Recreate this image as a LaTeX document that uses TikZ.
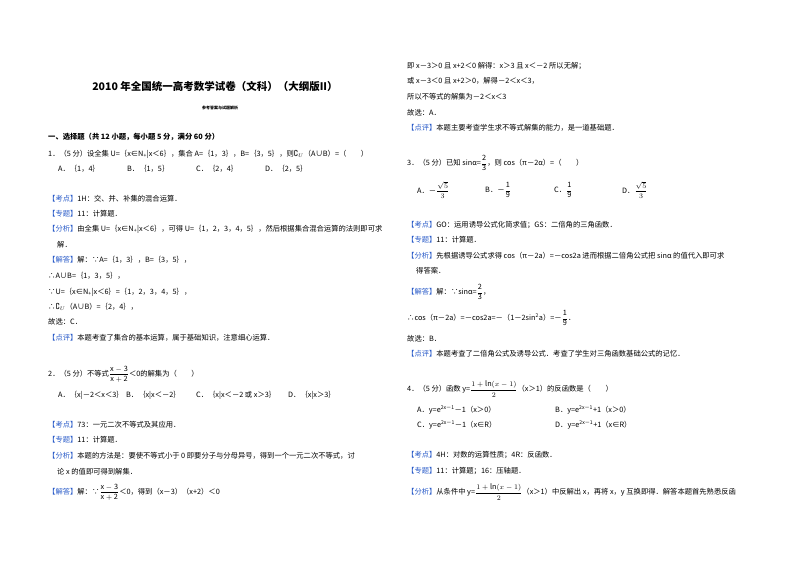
\documentclass[tikz,border=0pt]{standalone}
\usepackage{amssymb}
\usepackage{fontspec}
\setmainfont{Noto Sans CJK SC}
\definecolor{lbl}{RGB}{40,90,200}
\tikzset{t/.style={anchor=west,inner sep=0pt,font=\fontsize{7.3}{9}\selectfont}}
\newcommand{\Ln}[4]{\node[t] (#1) at (#2pt,-#3pt) {#4};}
\newcommand{\B}[1]{{\color{lbl}【#1】}}
\newcommand{\fr}[2]{$\displaystyle\frac{\mathrm{#1}}{\mathrm{#2}}$}
\begin{document}
\begin{tikzpicture}
\useasboundingbox (0,0) rectangle (800pt,-565pt);
\node[inner sep=0pt,font=\fontsize{10.5}{12}\selectfont\bfseries] (title) at (215pt,-87pt) {2010 年全国统一高考数学试卷（文科）（大纲版II）};
\node[inner sep=0pt,font=\fontsize{4}{5}\selectfont\bfseries] (sub) at (220pt,-108pt) {参考答案与试题解析};
\node[t,font=\fontsize{7.3}{9}\selectfont\bfseries] (sec) at (48pt,-137pt) {一、选择题（共 12 小题，每小题 5 分，满分 60 分）};
\Ln{q1}{48}{154}{1．（5 分）设全集 U=｛x∈N\textsubscript{+}|x＜6｝，集合 A=｛1，3｝，B=｛3，5｝，则$\complement_U$（A∪B）=（\quad\quad）}
\Ln{q1a}{58}{169}{A．｛1，4｝}
\Ln{q1b}{127}{169}{B．｛1，5｝}
\Ln{q1c}{196}{169}{C．｛2，4｝}
\Ln{q1d}{265}{169}{D．｛2，5｝}
\Ln{k1}{48}{199}{\B{考点}1H：交、并、补集的混合运算．}
\Ln{z1}{48}{214}{\B{专题}11：计算题．}
\Ln{f1}{48}{229}{\B{分析}由全集 U=｛x∈N\textsubscript{+}|x＜6｝，可得 U=｛1，2，3，4，5｝，然后根据集合混合运算的法则即可求}
\Ln{f1b}{57}{245}{解．}
\Ln{j1}{48}{260}{\B{解答}解：∵A=｛1，3｝，B=｛3，5｝，}
\Ln{j1b}{48}{276}{∴A∪B=｛1，3，5｝，}
\Ln{j1c}{48}{292}{∵U=｛x∈N\textsubscript{+}|x＜6｝=｛1，2，3，4，5｝，}
\Ln{j1d}{48}{307}{∴$\complement_U$（A∪B）=｛2，4｝，}
\Ln{g1}{48}{322}{故选：C．}
\Ln{p1}{48}{338}{\B{点评}本题考查了集合的基本运算，属于基础知识，注意细心运算．}
\Ln{q2}{48}{374}{2．（5 分）不等式\fr{x-3}{x+2}＜0的解集为（\quad\quad）}
\Ln{q2a}{58}{395}{A．｛x|－2＜x＜3｝}
\Ln{q2b}{126}{395}{B．｛x|x＜－2｝}
\Ln{q2c}{196}{395}{C．｛x|x＜－2 或 x＞3｝}
\Ln{q2d}{288}{395}{D．｛x|x＞3｝}
\Ln{k2}{48}{425}{\B{考点}73：一元二次不等式及其应用．}
\Ln{z2}{48}{440}{\B{专题}11：计算题．}
\Ln{f2}{48}{456}{\B{分析}本题的方法是：要使不等式小于 0 即要分子与分母异号，得到一个一元二次不等式，讨}
\Ln{f2b}{57}{472}{论 x 的值即可得到解集．}
\Ln{j2}{48}{492}{\B{解答}解：∵\fr{x-3}{x+2}＜0，得到（x－3）（x+2）＜0}
% right column
\Ln{r1}{407}{66}{即 x－3＞0 且 x+2＜0 解得：x＞3 且 x＜－2 所以无解；}
\Ln{r2}{407}{81}{或 x－3＜0 且 x+2＞0，解得－2＜x＜3，}
\Ln{r3}{407}{97}{所以不等式的解集为－2＜x＜3}
\Ln{r4}{407}{113}{故选：A．}
\Ln{r5}{407}{128}{\B{点评}本题主要考查学生求不等式解集的能力，是一道基础题．}
\Ln{q3}{407}{163}{3．（5 分）已知 sinα=\fr{2}{3}，则 cos（π－2α）=（\quad\quad）}
\Ln{q3a}{417}{190}{A．－$\displaystyle\frac{\sqrt{5}}{3}$}
\Ln{q3b}{485}{190}{B．－\fr{1}{9}}
\Ln{q3c}{554}{190}{C．\fr{1}{9}}
\Ln{q3d}{622}{190}{D．$\displaystyle\frac{\sqrt{5}}{3}$}
\Ln{k3}{407}{225}{\B{考点}GO：运用诱导公式化简求值；GS：二倍角的三角函数．}
\Ln{z3}{407}{240}{\B{专题}11：计算题．}
\Ln{f3}{407}{256}{\B{分析}先根据诱导公式求得 cos（π－2a）=－cos2a 进而根据二倍角公式把 sinα 的值代入即可求}
\Ln{f3b}{416}{271}{得答案．}
\Ln{j3}{407}{292}{\B{解答}解：∵sinα=\fr{2}{3}，}
\Ln{j3b}{407}{318}{∴cos（π－2a）=－cos2a=－（1－2sin\textsuperscript{2}a）=－\fr{1}{9}．}
\Ln{g3}{407}{339}{故选：B．}
\Ln{p3}{407}{354}{\B{点评}本题考查了二倍角公式及诱导公式．考查了学生对三角函数基础公式的记忆．}
\Ln{q4}{407}{389}{4．（5 分）函数 y=$\displaystyle\frac{1+\ln(x-1)}{2}$（x＞1）的反函数是（\quad\quad）}
\Ln{q4a}{417}{410}{A．y=e\textsuperscript{2x－1}－1（x＞0）}
\Ln{q4b}{555}{410}{B．y=e\textsuperscript{2x－1}+1（x＞0）}
\Ln{q4c}{417}{425}{C．y=e\textsuperscript{2x－1}－1（x∈R）}
\Ln{q4d}{555}{425}{D．y=e\textsuperscript{2x－1}+1（x∈R）}
\Ln{k4}{407}{455}{\B{考点}4H：对数的运算性质；4R：反函数．}
\Ln{z4}{407}{471}{\B{专题}11：计算题；16：压轴题．}
\Ln{f4}{407}{492}{\B{分析}从条件中 y=$\displaystyle\frac{1+\ln(x-1)}{2}$（x＞1）中反解出 x，再将 x，y 互换即得．解答本题首先熟悉反函}
\end{tikzpicture}
\end{document}
